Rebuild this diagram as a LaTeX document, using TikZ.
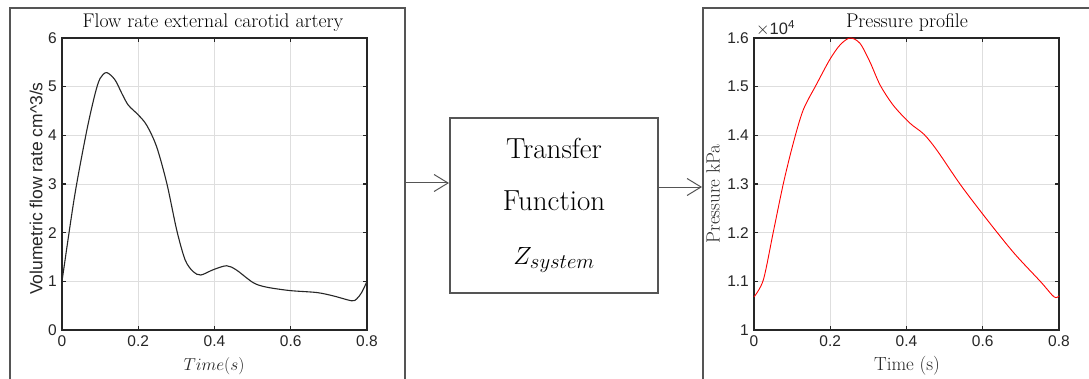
\documentclass[tikz,border=0pt]{standalone}
\usepackage{fontspec}
\newfontfamily\axfont{Liberation Sans}
\usetikzlibrary{arrows.meta}
\definecolor{framegray}{HTML}{555555}
\definecolor{axgray}{HTML}{262626}
\definecolor{gridgray}{HTML}{DEDEDE}
\tikzset{
  panel/.style={draw=framegray, line width=2pt, inner sep=0pt, fill=none},
  tfbox/.style={draw=framegray, line width=2pt, inner sep=0pt, align=center, font=\fontsize{29}{52}\selectfont},
  conn/.style={draw=framegray, line width=1pt, -{Straight Barb[length=14pt,width=17pt,line width=1pt]}},
  gridline/.style={draw=gridgray, line width=0.8pt},
  axline/.style={draw=axgray, line width=1.1pt},
  ticklab/.style={text=axgray, font=\axfont\fontsize{15.5}{18}\selectfont, inner sep=0pt},
  axtitle/.style={text=black, font=\fontsize{19.8}{22}\selectfont, inner sep=0pt},
  axlab/.style={text=axgray, font=\fontsize{19}{22}\selectfont, inner sep=0pt},
  sanslab/.style={text=axgray, font=\axfont\fontsize{17.5}{20}\selectfont, inner sep=0pt},
}
\begin{document}
\begin{tikzpicture}[x=1pt,y=1pt]
\useasboundingbox (0,0) rectangle (1089,378);
\clip (0,0) rectangle (1089,378);
\fill[white] (0,0) rectangle (1089,378);

% panels
\node[panel, minimum width=395pt, minimum height=380pt] (lpanel) at (207.5,180) {};
\node[panel, minimum width=420pt, minimum height=380pt] (rpanel) at (913,180) {};
\node[tfbox, minimum width=208pt, minimum height=175pt] (tf) at (554,172.5)
  {Transfer\\Function\\[2pt]$Z_{system}$};

\draw[conn] (lpanel.east |- 0,195) -- (tf.west |- 0,195);
\draw[conn] (tf.east |- 0,191) -- (rpanel.west |- 0,191);

% ---------- left axes ----------
\begin{scope}[shift={(62,48)}, x=381.25pt, y=48.667pt]
  \foreach \t in {0.2,0.4,0.6} \draw[gridline] (\t,0) -- (\t,6);
  \foreach \v in {1,...,5} \draw[gridline] (0,\v) -- (0.8,\v);
  \draw[axline] (0,0) rectangle (0.8,6);
  \foreach \t in {0.2,0.4,0.6} {
    \draw[axline] (\t,0) -- ++(0,4pt);
    \draw[axline] (\t,6) -- ++(0,-4pt);}
  \foreach \v in {1,...,5} {
    \draw[axline] (0,\v) -- ++(4pt,0);
    \draw[axline] (0.8,\v) -- ++(-4pt,0);}
  \foreach \v in {0,...,6} \node[ticklab, anchor=east] (ly\v) at ([xshift=-5pt]0,\v) {\v};
  \foreach \t/\l in {0/0,0.2/0.2,0.4/0.4,0.6/0.6,0.8/0.8}
    \node[ticklab, anchor=north] at ([yshift=-5pt]\t,0) {\l};
  \draw[black!85, line width=1.1pt, line join=round] plot[smooth, tension=0.5] coordinates {
    (0,1) (0.033,2.75) (0.065,4.1) (0.087,4.86) (0.1,5.17) (0.117,5.29)
    (0.139,5.14) (0.157,4.86) (0.174,4.62) (0.2,4.42) (0.222,4.21) (0.248,3.77)
    (0.275,3.01) (0.301,2.05) (0.323,1.44) (0.344,1.2) (0.364,1.13) (0.397,1.24)
    (0.432,1.32) (0.458,1.23) (0.502,0.97) (0.537,0.88) (0.598,0.81) (0.668,0.77)
    (0.712,0.70) (0.76,0.60) (0.773,0.64) (0.786,0.77) (0.8,1.0)};
\end{scope}
\node[axtitle] (ltitle) at (213,355) {Flow rate external carotid artery};
\node[axlab] (lxlab) at (214,12) {$Time(s)$};
\node[sanslab, rotate=90] (lylab) at (36,189.5) {Volumetric flow rate cm\^{}3/s};

% ---------- right axes ----------
\begin{scope}[shift={(754,48)}, x=381.25pt, y=486.67pt]
  \foreach \t in {0.2,0.4,0.6} \draw[gridline] (\t,0) -- (\t,0.6);
  \foreach \v in {0.1,0.2,0.3,0.4,0.5} \draw[gridline] (0,\v) -- (0.8,\v);
  \draw[axline] (0,0) rectangle (0.8,0.6);
  \foreach \t in {0.2,0.4,0.6} {
    \draw[axline] (\t,0) -- ++(0,4pt);
    \draw[axline] (\t,0.6) -- ++(0,-4pt);}
  \foreach \v in {0.1,0.2,0.3,0.4,0.5} {
    \draw[axline] (0,\v) -- ++(4pt,0);
    \draw[axline] (0.8,\v) -- ++(-4pt,0);}
  \foreach \v/\l in {0/1,0.1/1.1,0.2/1.2,0.3/1.3,0.4/1.4,0.5/1.5,0.6/1.6}
    \node[ticklab, anchor=east] at ([xshift=-5pt]0,\v) {\l};
  \foreach \t/\l in {0/0,0.2/0.2,0.4/0.4,0.6/0.6,0.8/0.8}
    \node[ticklab, anchor=north] at ([yshift=-5pt]\t,0) {\l};
  \draw[red, line width=0.9pt, line join=round] plot[smooth, tension=0.5] coordinates {
    (0,0.068) (0.0245,0.103) (0.05,0.199) (0.077,0.301) (0.103,0.384)
    (0.129,0.452) (0.164,0.505) (0.199,0.556) (0.226,0.586) (0.252,0.6)
    (0.278,0.589) (0.304,0.551) (0.331,0.503) (0.366,0.461) (0.409,0.425)
    (0.446,0.402) (0.481,0.368) (0.542,0.298) (0.612,0.226) (0.682,0.158)
    (0.752,0.099) (0.787,0.068) (0.8,0.07)};
\end{scope}
\node[ticklab, anchor=west, font=\axfont\fontsize{16.5}{18}\selectfont] (mult) at (756,350) {$\times$10\textsuperscript{4}};
\node[axtitle] (rtitle) at (907,356) {Pressure profile};
\node[axlab] (rxlab) at (907,12) {Time (s)};
\node[axlab, rotate=90] (rylab) at (713,184) {Pressure kPa};
\end{tikzpicture}
\end{document}
